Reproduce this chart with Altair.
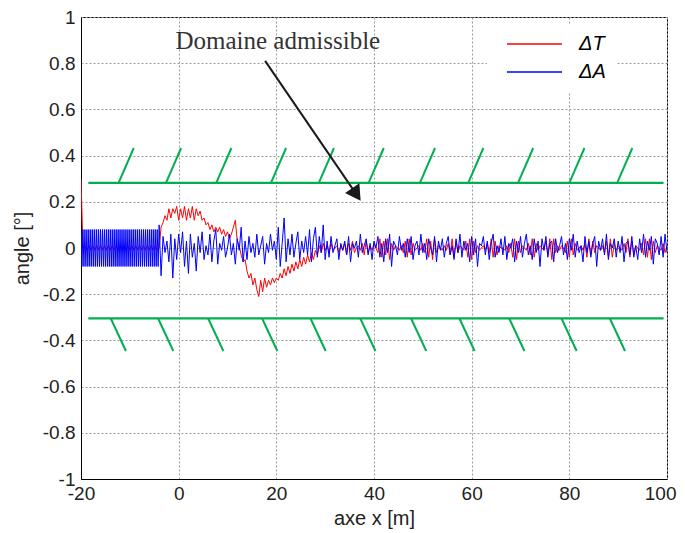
import altair as alt
import pandas as pd

# ---------------- data ----------------
# red series (Delta T)
red_seg1_start, red_seg1_step = -20.0, 0.4
red_seg1 = [0.30, 0.00, 0.01, -0.01, 0.01, -0.01, 0.01, -0.01, 0.01, -0.01,
            0.01, -0.01, 0.01, -0.01, 0.01, -0.01, 0.01, -0.01, 0.01, -0.01,
            0.01, -0.01, 0.01, -0.01, 0.01, -0.01, 0.01, -0.01, 0.01, -0.01,
            0.01, -0.01, 0.01, -0.01, 0.01, -0.01, 0.01, -0.01, 0.01, -0.01]
red_seg2_start, red_seg2_step = -4.0, 0.4
red_seg2 = [0.00, 0.09, 0.11, 0.14, 0.12, 0.17, 0.13, 0.17, 0.15, 0.18,
            0.12, 0.17, 0.13, 0.18, 0.12, 0.17, 0.13, 0.18, 0.12, 0.17,
            0.14, 0.16, 0.12, 0.13, 0.10, 0.11, 0.08, 0.10, 0.07, 0.09,
            0.07, 0.09, 0.06, 0.08, 0.05, 0.07, 0.04, 0.06, 0.09, 0.12,
            0.03, 0.01, -0.03, -0.06, -0.05, -0.10, -0.13, -0.11, -0.16, -0.13,
            -0.18, -0.21, -0.14, -0.19, -0.13, -0.17, -0.14, -0.16, -0.13, -0.15,
            -0.13, -0.14, -0.11, -0.13, -0.09, -0.12, -0.08, -0.11, -0.07, -0.10,
            -0.06, -0.09, -0.05, -0.08, -0.04, -0.07, -0.03, -0.06, -0.02, -0.05,
            -0.01, -0.03, 0.01, -0.02, 0.02, -0.01]
red_seg3_start, red_seg3_step = 30.4, 0.4
red_seg3 = [0.01, -0.02, 0.02, -0.01, 0.00, 0.01, -0.02, 0.01, -0.01, 0.02,
            -0.03, 0.02, -0.01, 0.03, -0.02, 0.00, 0.01, -0.01, 0.02, -0.03,
            0.03, -0.02, 0.01, -0.01, 0.02, 0.00, -0.02, 0.04, -0.04, 0.03,
            -0.03, 0.04, -0.05, 0.02, -0.01, 0.01, 0.00, -0.01, 0.01, -0.02,
            0.03, -0.04, 0.04, -0.03, 0.02, -0.01, 0.00, 0.01, -0.01, 0.02,
            -0.02, 0.04, -0.04, 0.03, -0.05, 0.04, -0.02, 0.01, 0.00, -0.01,
            0.01, -0.01, 0.02, -0.03, 0.04, -0.04, 0.03, -0.02, 0.01, 0.00,
            -0.01, 0.03, -0.04, 0.04, -0.05, 0.03, -0.02, 0.01, -0.01, 0.00,
            0.01, -0.01, 0.02, -0.02, 0.04, -0.04, 0.03, -0.03, 0.01, 0.00,
            0.00, -0.01, 0.01, -0.02, 0.02, -0.04, 0.04, -0.05, 0.03, -0.02,
            0.01, 0.00, -0.01, 0.02, -0.03, 0.04, -0.04, 0.02, -0.01, 0.01,
            0.00, -0.01, 0.03, -0.03, 0.04, -0.05, 0.04, -0.02, 0.01, -0.01,
            0.01, 0.00, -0.02, 0.03, -0.04, 0.04, -0.03, 0.02, -0.01, 0.00,
            0.01, -0.01, 0.02, -0.04, 0.04, -0.03, 0.03, -0.02, 0.01, 0.00,
            -0.01, 0.01, -0.02, 0.03, -0.04, 0.04, -0.04, 0.02, -0.01, 0.01,
            0.00, -0.01, 0.02, -0.02, 0.04, -0.04, 0.03, -0.03, 0.01, 0.00,
            -0.01, 0.02, -0.03, 0.04, -0.04, 0.04, -0.05, 0.03, -0.02, 0.01,
            0.00, -0.01, 0.02, -0.02, 0.01]

# blue series (Delta A)
blue_seg1_start, blue_seg1_step = -20.0, 0.2
blue_seg1 = [0.08, -0.08, 0.08, -0.08, 0.08, -0.08, 0.08, -0.08, 0.08, -0.08,
             0.08, -0.08, 0.08, -0.08, 0.08, -0.08, 0.08, -0.08, 0.08, -0.08,
             0.08, -0.08, 0.08, -0.08, 0.08, -0.08, 0.08, -0.08, 0.08, -0.08,
             0.08, -0.08, 0.08, -0.08, 0.08, -0.08, 0.08, -0.08, 0.08, -0.08,
             0.08, -0.08, 0.08, -0.08, 0.08, -0.08, 0.08, -0.08, 0.08, -0.08,
             0.08, -0.08, 0.08, -0.08, 0.08, -0.08, 0.08, -0.08, 0.08, -0.08,
             0.08, -0.08, 0.08, -0.08, 0.08, -0.08, 0.08, -0.08, 0.08, -0.08,
             0.08, -0.08, 0.08, -0.08, 0.08, -0.08, 0.08, -0.08, 0.08, -0.08]
blue_seg2_start, blue_seg2_step = -4.0, 0.4
blue_seg2 = [0.10, -0.12, 0.05, -0.02, 0.03, -0.06, 0.06, -0.13, 0.04, -0.05,
             0.06, -0.02, 0.07, -0.08, 0.03, -0.11, 0.06, -0.04, 0.02, -0.10,
             0.05, -0.02, 0.07, -0.05, 0.01, -0.03, 0.06, -0.06, 0.03, 0.08,
             -0.07, 0.02, -0.01, 0.05, -0.04, 0.00, 0.06, -0.03, 0.02, -0.07,
             0.04, -0.01, 0.09, -0.06, 0.03, -0.05, 0.05, -0.02, 0.02, -0.04,
             0.06, -0.03, 0.01, 0.05, -0.07, 0.02, -0.02, 0.06, -0.01, 0.03,
             -0.05, 0.09, -0.08, 0.02, 0.13, -0.06, 0.04, -0.03, 0.06, -0.04,
             0.02, 0.07, -0.05, 0.03, -0.02, 0.05, -0.03, 0.08, -0.06, 0.04,
             0.09, -0.04, 0.05, -0.02, 0.10, -0.05]
blue_seg3_start, blue_seg3_step = 30.4, 0.4
blue_seg3 = [0.03, -0.04, 0.05, -0.02, 0.01, 0.04, -0.05, 0.02, -0.01, 0.03,
             -0.03, 0.05, -0.06, 0.02, 0.00, 0.03, -0.04, 0.06, -0.02, 0.01,
             0.04, -0.03, 0.02, -0.05, 0.03, 0.00, 0.05, -0.04, 0.02, -0.06,
             0.04, -0.02, 0.06, -0.08, 0.03, 0.01, -0.03, 0.05, -0.01, 0.02,
             -0.04, 0.04, -0.02, 0.05, -0.05, 0.01, 0.03, -0.03, 0.06, -0.02,
             0.02, -0.05, 0.04, 0.00, -0.03, 0.05, -0.06, 0.03, -0.01, 0.04,
             -0.04, 0.02, 0.05, -0.03, 0.01, -0.05, 0.04, -0.02, 0.06, -0.04,
             0.03, -0.01, 0.02, -0.06, 0.05, -0.03, 0.04, -0.08, 0.02, 0.01,
             0.05, -0.03, 0.03, -0.05, 0.02, 0.06, -0.04, 0.01, -0.02, 0.04,
             -0.03, 0.05, -0.05, 0.02, 0.00, 0.04, -0.06, 0.03, -0.02, 0.05,
             -0.04, 0.02, 0.06, -0.03, 0.01, -0.05, 0.04, -0.02, 0.03, -0.08,
             0.04, -0.01, 0.05, -0.04, 0.02, 0.03, -0.06, 0.04, -0.02, 0.01,
             0.05, -0.03, 0.02, -0.05, 0.04, -0.01, 0.06, -0.04, 0.03, -0.02,
             0.01, -0.06, 0.05, -0.02, 0.03, -0.04, 0.02, 0.05, -0.08, 0.03,
             -0.01, 0.04, -0.03, 0.06, -0.05, 0.02, 0.00, 0.04, -0.04, 0.03,
             -0.02, 0.05, -0.06, 0.02, 0.03, -0.03, 0.05, -0.04, 0.01, -0.05,
             0.04, -0.02, 0.06, -0.04, 0.03, -0.01, 0.05, -0.07, 0.04, 0.02,
             -0.03, 0.05, -0.04, 0.06, -0.02]

assert len(red_seg1) == 40 and len(red_seg2) == 86 and len(red_seg3) == 175
assert len(blue_seg1) == 80 and len(blue_seg2) == 86 and len(blue_seg3) == 175

series_names = ["\u0394T", "\u0394A"]
series_colors = ["#ff0000", "#0000ff"]

# admissible domain limits (green lines with hatches)
limit_upper = 0.282
limit_lower = -0.305
limit_x_from = -18.5
limit_x_to = 99.3
hatch_up_x_base = [-12.3, -2.6, 7.7, 18.9, 28.7, 38.9, 49.4, 59.3, 69.5, 80.0, 89.8]
hatch_up_x_tip = [-9.2, 0.5, 10.8, 22.0, 31.8, 42.0, 52.5, 62.4, 72.6, 83.1, 92.9]
hatch_up_y_tip = 0.433
hatch_lo_x_base = [-13.9, -4.2, 6.05, 17.1, 27.0, 37.2, 47.6, 57.5, 67.7, 78.4, 88.3]
hatch_lo_x_tip = [-10.8, -1.1, 9.15, 20.2, 30.1, 40.3, 50.7, 60.6, 70.8, 81.5, 91.4]
hatch_lo_y_tip = -0.446

# annotation
annot_text = "Domaine admissible"
annot_text_x, annot_text_y = 20.3, 0.895
arrow_x0, arrow_y0 = 17.7, 0.81
arrow_x1, arrow_y1 = 36.4, 0.232

x_ticks = [-20, 0, 20, 40, 60, 80, 100]
y_ticks = [-1, -0.8, -0.6, -0.4, -0.2, 0, 0.2, 0.4, 0.6, 0.8, 1]

# ---------------- tables ----------------
rows = []
order = 0
for name, segs in [
    (series_names[0], [(red_seg1_start, red_seg1_step, red_seg1),
                       (red_seg2_start, red_seg2_step, red_seg2),
                       (red_seg3_start, red_seg3_step, red_seg3)]),
    (series_names[1], [(blue_seg1_start, blue_seg1_step, blue_seg1),
                       (blue_seg2_start, blue_seg2_step, blue_seg2),
                       (blue_seg3_start, blue_seg3_step, blue_seg3)]),
]:
    for start, step, vals in segs:
        for i, v in enumerate(vals):
            rows.append({"x": round(start + step * i, 3), "y": v, "s": name, "o": order})
            order += 1
df = pd.DataFrame(rows)

hatch_rows = []
for b, t in zip(hatch_up_x_base, hatch_up_x_tip):
    hatch_rows.append({"x": b, "x2": t, "y": limit_upper, "y2": hatch_up_y_tip})
for b, t in zip(hatch_lo_x_base, hatch_lo_x_tip):
    hatch_rows.append({"x": b, "x2": t, "y": limit_lower, "y2": hatch_lo_y_tip})
hatch_df = pd.DataFrame(hatch_rows)

limit_df = pd.DataFrame({"x": [limit_x_from, limit_x_from], "x2": [limit_x_to, limit_x_to],
                         "y": [limit_upper, limit_lower]})
arrow_df = pd.DataFrame({"x": [arrow_x0], "y": [arrow_y0], "x2": [arrow_x1], "y2": [arrow_y1]})
head_df = pd.DataFrame({"x": [arrow_x1], "y": [arrow_y1]})
text_df = pd.DataFrame({"x": [annot_text_x], "y": [annot_text_y], "t": [annot_text]})

FONT = "Liberation Sans"
MINUS_FIX = "replace(format(datum.value, '~g'), '\u2212', '-')"
xscale = alt.Scale(domain=[-20, 100], nice=False, zero=False)
yscale = alt.Scale(domain=[-1, 1], nice=False, zero=False)

x_axis = alt.Axis(values=x_ticks, title="axe x [m]", grid=True, ticks=False,
                  labelPadding=5, titlePadding=5, labelFlush=False, labelExpr=MINUS_FIX,
                  labelAlign={"condition": {"test": "datum.value == 100", "value": "right"},
                              "value": "center"},
                  labelOffset={"condition": {"test": "datum.value == 100", "value": 9},
                               "value": 0})
y_axis = alt.Axis(values=y_ticks, title="angle [°]", grid=True, ticks=False,
                  labelPadding=6, titlePadding=10, labelExpr=MINUS_FIX)


def X(field="x"):
    return alt.X(f"{field}:Q", scale=xscale, axis=x_axis)


def Y(field="y"):
    return alt.Y(f"{field}:Q", scale=yscale, axis=y_axis)


lines = alt.Chart(df).mark_line(strokeWidth=1, clip=True).encode(
    x=X(), y=Y(),
    color=alt.Color("s:N", scale=alt.Scale(domain=series_names, range=series_colors),
                    legend=alt.Legend(title=None, orient="none", legendX=406, legendY=7,
                                      symbolType="M0,0H11", symbolSize=100,
                                      symbolStrokeWidth=1.5, labelFontSize=20,
                                      labelFont=FONT, labelFontStyle="italic",
                                      labelOffset=62, rowPadding=8, padding=10,
                                      fillColor="white", strokeColor="white")),
    order="o:Q",
)

limits = alt.Chart(limit_df).mark_rule(color="#00b050", strokeWidth=2.2).encode(
    x=X(), x2="x2:Q", y=Y(),
)
hatches = alt.Chart(hatch_df).mark_rule(color="#00b050", strokeWidth=2).encode(
    x=X(), x2="x2:Q", y=Y(), y2="y2:Q",
)
arrow = alt.Chart(arrow_df).mark_rule(color="#1a1a1a", strokeWidth=2).encode(
    x=X(), x2="x2:Q", y=Y(), y2="y2:Q",
)
head = alt.Chart(head_df).mark_point(shape="triangle-up", filled=True, size=300,
                                     angle=146, color="#1a1a1a", opacity=1).encode(
    x=X(), y=Y(),
)
label = alt.Chart(text_df).mark_text(font="Liberation Serif", fontSize=25, color="#333333",
                                     baseline="middle", align="center").encode(
    x=X(), y=Y(), text="t:N",
)

chart = alt.layer(limits, hatches, lines, arrow, head, label).properties(
    width=586, height=462,
    background="white",
    autosize=alt.AutoSizeParams(type="none"),
    padding={"left": 73, "top": 9, "right": 10, "bottom": 54},
).configure_view(
    stroke="black", strokeWidth=1
).configure_axis(
    labelFont=FONT, titleFont=FONT, labelFontSize=19, titleFontSize=20,
    labelColor="#222222", titleColor="#222222", titleFontWeight="normal",
    domainColor="black", domainWidth=1,
    gridColor="#9a9a9a", gridDash=[2, 2], gridWidth=1, gridOpacity=1,
)

chart.save("out.html", embed_options={"renderer": "svg", "actions": False})
